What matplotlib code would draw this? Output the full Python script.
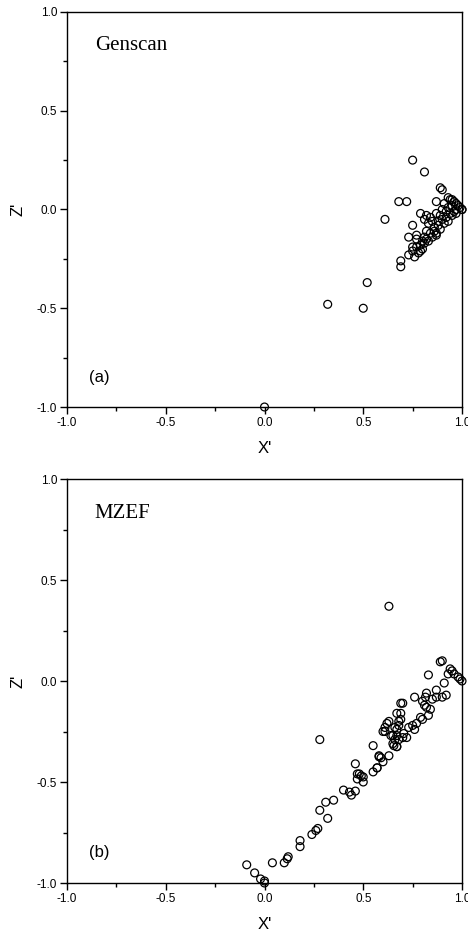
import matplotlib
matplotlib.use("Agg")
import matplotlib.pyplot as plt
from matplotlib.ticker import MultipleLocator

# Panel (a) Genscan
genscan_x = [0.00, 0.32, 0.50, 0.52, 0.61, 0.68, 0.72, 0.75, 0.81, 0.89, 0.90, 0.87,
             0.69, 0.69, 0.75, 0.79, 0.73, 0.77, 0.77, 0.81, 0.82, 0.84, 0.87, 0.83,
             0.86, 0.87, 0.82, 0.81, 0.82, 0.81, 0.80, 0.79, 0.75, 0.73, 0.76, 0.78,
             0.75, 0.93, 0.94, 0.95, 0.96, 0.97, 0.98, 0.99, 1.00, 1.00, 0.90, 0.92,
             0.94, 0.96, 0.97, 0.95, 0.93, 0.91, 0.89, 0.88, 0.90, 0.92, 0.93, 0.95,
             0.97, 0.85, 0.86, 0.88, 0.84, 0.83, 0.85, 0.79, 0.80, 0.77, 0.91, 0.89,
             0.87]
genscan_z = [-1.00, -0.48, -0.50, -0.37, -0.05, 0.04, 0.04, 0.25, 0.19, 0.11, 0.10, 0.04,
             -0.26, -0.29, -0.08, -0.02, -0.14, -0.13, -0.15, -0.05, -0.03, -0.04, -0.02, -0.07,
             -0.09, -0.12, -0.11, -0.14, -0.15, -0.17, -0.20, -0.21, -0.21, -0.23, -0.24, -0.22,
             -0.19, 0.06, 0.05, 0.05, 0.04, 0.03, 0.02, 0.01, 0.00, 0.00, 0.00, -0.01,
             -0.02, -0.01, 0.00, 0.02, 0.01, 0.03, -0.03, -0.06, -0.05, -0.04, -0.06, -0.03,
             -0.02, -0.06, -0.11, -0.08, -0.12, -0.16, -0.14, -0.18, -0.16, -0.19, -0.07, -0.10,
             -0.13]

# Panel (b) MZEF
mzef_x = [0.63, 0.28, 0.55, 0.46, 0.58, 0.57, 0.55, 0.47, 0.50, 0.47, 0.50,
          0.40, 0.43, 0.46, 0.44, 0.35, 0.28, 0.24, 0.26, 0.27, 0.18, 0.18,
          0.12, 0.115, 0.10, 0.04, -0.09, -0.05, -0.02, 0.00, 0.00, 0.31, 0.32,
          0.62, 0.61, 0.64, 0.67, 0.68, 0.67, 0.66, 0.67, 0.65, 0.69, 0.63,
          0.58, 0.59, 0.60, 0.57, 0.48, 0.49,
          0.90, 0.94, 0.95, 0.96, 0.98, 0.99, 1.00, 0.93, 0.83, 0.91, 0.87, 0.92,
          0.90, 0.87, 0.85, 0.82, 0.815, 0.80, 0.81, 0.82, 0.84, 0.83, 0.79, 0.80,
          0.76, 0.70, 0.69, 0.69, 0.68, 0.66, 0.63, 0.61, 0.60, 0.65, 0.67, 0.705,
          0.73, 0.75, 0.77, 0.76, 0.72, 0.68, 0.655, 0.67, 0.70, 0.89]
mzef_z = [0.37, -0.29, -0.32, -0.41, -0.375, -0.43, -0.45, -0.46, -0.475, -0.485, -0.50,
          -0.54, -0.55, -0.545, -0.565, -0.59, -0.64, -0.76, -0.74, -0.73, -0.79, -0.82,
          -0.87, -0.88, -0.90, -0.90, -0.91, -0.95, -0.98, -0.99, -1.00, -0.60, -0.68,
          -0.21, -0.25, -0.27, -0.16, -0.20, -0.24, -0.29, -0.325, -0.31, -0.11, -0.37,
          -0.37, -0.38, -0.40, -0.43, -0.46, -0.47,
          0.10, 0.06, 0.05, 0.035, 0.02, 0.01, 0.00, 0.035, 0.03, -0.01, -0.045, -0.07,
          -0.08, -0.08, -0.09, -0.06, -0.08, -0.10, -0.12, -0.13, -0.14, -0.17, -0.18, -0.19,
          -0.08, -0.11, -0.16, -0.19, -0.22, -0.23, -0.20, -0.23, -0.25, -0.27, -0.27, -0.26,
          -0.23, -0.22, -0.21, -0.24, -0.28, -0.29, -0.32, -0.325, -0.28, 0.095]

ticks = [-1.0, -0.5, 0.0, 0.5, 1.0]
tick_labels = ["-1.0", "-0.5", "0.0", "0.5", "1.0"]

plt.rcParams['font.family'] = ['Liberation Sans', 'DejaVu Sans']

fig = plt.figure(figsize=(4.68, 9.38), dpi=100)
W, H = 468, 938
ax_a = fig.add_axes([67 / W, 1 - 407 / H, 395 / W, 395 / H])
ax_b = fig.add_axes([67 / W, 1 - 883 / H, 395 / W, 404 / H])

panels = [(ax_a, genscan_x, genscan_z, "Genscan", "(a)"),
          (ax_b, mzef_x, mzef_z, "MZEF", "(b)")]

for ax, xs, zs, name, tag in panels:
    ax.scatter(xs, zs, s=32, facecolors='none', edgecolors='black',
               linewidths=0.9, clip_on=False, zorder=3)
    ax.set_xlim(-1.0, 1.0)
    ax.set_ylim(-1.0, 1.0)
    ax.set_xticks(ticks)
    ax.set_xticklabels(tick_labels)
    ax.set_yticks(ticks)
    ax.set_yticklabels(tick_labels)
    ax.xaxis.set_minor_locator(MultipleLocator(0.25))
    ax.yaxis.set_minor_locator(MultipleLocator(0.25))
    ax.tick_params(which='major', direction='out', length=5, width=1.0,
                   labelsize=8.5, pad=2)
    ax.tick_params(which='minor', direction='out', length=3, width=1.0)
    for sp in ax.spines.values():
        sp.set_linewidth(1.0)
    ax.set_xlabel("X'", fontsize=12, labelpad=9)
    ax.set_ylabel("Z'", fontsize=12, labelpad=8)
    ax.text(-0.86, 0.83, name, fontsize=15, family='Liberation Serif',
            va='center', ha='left')
    ax.text(-0.89, -0.85, tag, fontsize=12, va='center', ha='left')

fig.savefig("out.png", dpi=100)
